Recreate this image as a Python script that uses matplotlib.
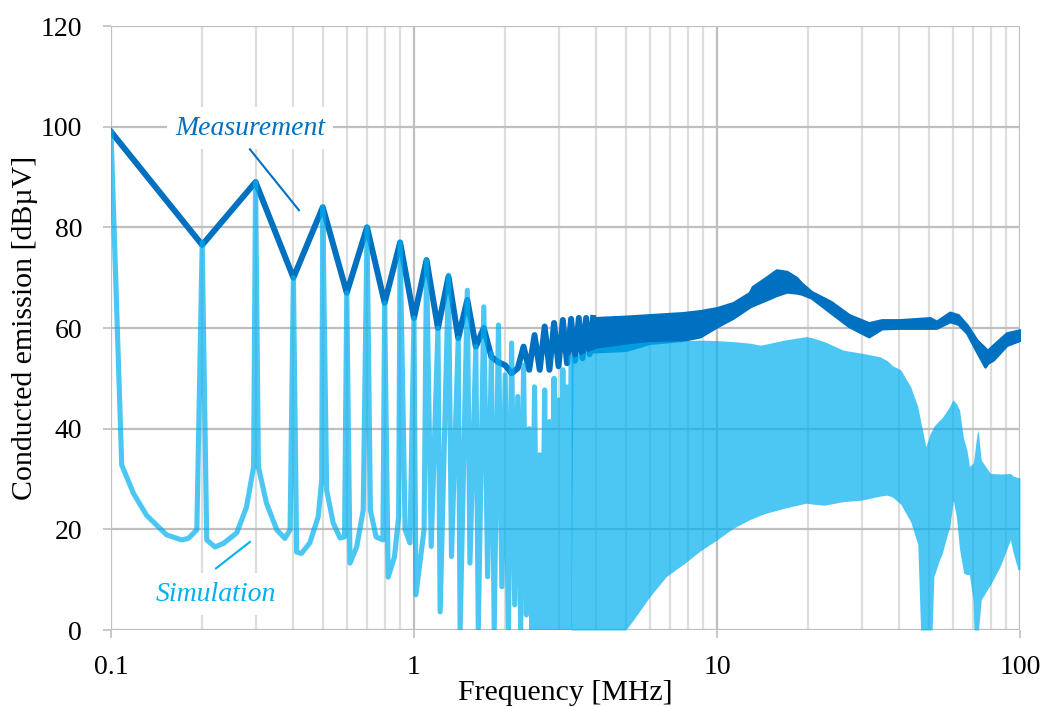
import numpy as np
import matplotlib
matplotlib.use('Agg')
import matplotlib.pyplot as plt
from matplotlib.ticker import LogLocator, FixedLocator, FixedFormatter, NullFormatter

meas_f = [0.1, 0.2, 0.3, 0.4, 0.5, 0.6, 0.7, 0.8, 0.9, 1.0,
          1.1, 1.2, 1.3, 1.4, 1.5, 1.6, 1.7, 1.8, 1.9, 2.0,
          2.1, 2.2, 2.3, 2.4, 2.5, 2.6, 2.7, 2.8, 2.9, 3.0,
          3.1, 3.2, 3.3, 3.4, 3.5, 3.6, 3.7, 3.8, 3.9]
meas_db = [99, 76.5, 89, 70, 84, 67, 80, 65, 77, 62,
           73.5, 60, 70.2, 58, 65.6, 56.3, 60, 54.3, 53.2, 52.6,
           51, 52, 56.3, 51.7, 58.6, 51.7, 60.3, 51.7, 61, 52.4,
           61.6, 53, 61.8, 53.5, 62, 54, 62, 54.8, 62]

# measurement above ~4 MHz: envelope of the dense band
meas_band_f = [3.9, 5.0, 6.0, 7.7, 8.8, 10, 11.3, 12.8, 13.1, 14.5, 15.7, 17, 18.3,
               19, 20.5, 23.8, 27.3, 31.7, 35, 40, 50.5, 53, 58.7, 62.5, 66.8,
               72, 76.7, 78, 81.6, 90.4, 100]
meas_band_hi = [62.0, 62.3, 62.6, 63.0, 63.4, 64.0, 65.0, 67.0, 68.2, 70.0, 71.5, 71.2, 70.0,
                68.9, 67.2, 65.2, 62.6, 61.0, 61.6, 61.6, 62.0, 61.3, 63.1, 62.6, 60.6,
                57.6, 56.0, 55.5, 56.6, 59.0, 59.6]
meas_band_lo = [55.3, 55.6, 57.0, 57.6, 58.3, 60.3, 62.0, 64.2, 64.5, 65.6, 66.5, 67.2, 67.0,
                66.8, 66.0, 63.0, 60.3, 58.3, 59.9, 60.0, 60.0, 60.0, 61.3, 60.8, 59.0,
                55.3, 52.3, 53.0, 53.7, 56.6, 57.6]

# ---- simulation: traced points up to 3.3 MHz ----
sim_f = [0.1, 0.1085, 0.1185, 0.131, 0.1526, 0.171, 0.18, 0.192,
         0.2, 0.207, 0.2205, 0.235, 0.26, 0.28, 0.2956,
         0.3, 0.3066, 0.326, 0.3526, 0.375, 0.39,
         0.4, 0.41, 0.425, 0.453, 0.483, 0.496,
         0.5, 0.515, 0.541, 0.57, 0.59,
         0.6, 0.615, 0.647, 0.68,
         0.7, 0.718, 0.75, 0.79,
         0.8, 0.822, 0.862, 0.89,
         0.9, 0.935, 0.97,
         1.0, 1.015, 1.08, 1.1, 1.14, 1.2, 1.22, 1.3, 1.33,
         1.4, 1.42, 1.5, 1.53, 1.6, 1.63, 1.7, 1.75, 1.8, 1.84,
         1.9, 1.95, 2.0, 2.05, 2.1, 2.15, 2.2, 2.25, 2.3, 2.35,
         2.4, 2.45, 2.5, 2.55, 2.6, 2.65, 2.7, 2.75, 2.8, 2.85,
         2.9, 2.95, 3.0, 3.05, 3.1, 3.15, 3.2, 3.25, 3.3]
sim_db = [99, 32.8, 27.2, 22.8, 18.9, 17.9, 18.2, 19.9,
          77, 17.9, 16.5, 17.2, 19.3, 24.4, 32.4,
          89, 32.4, 25.2, 19.9, 18.2, 19.9,
          70, 15.5, 15.2, 17.3, 22.5, 29.8,
          84, 27.8, 21.3, 18.3, 18.5,
          67, 13.3, 16.5, 23.8,
          80, 23.8, 18.5, 17.9,
          65, 10.5, 14.5, 22.5,
          77, 19.9, 17.3,
          62, 7, 20, 73.5, 16.6, 60, 3.6, 70.5, 14.6,
          58, 0, 67.5, 13.3, 56.3, 0, 64.2, 10.6, 55, 0,
          60.6, 8.6, 50.7, 0, 57, 5, 46.4, 0, 52.6, 3,
          40, 0, 48.3, 0, 34.8, 0, 47.7, 0, 41.4, 0,
          50, 0, 45.7, 0, 51.7, 0, 48.3, 0, 54]

# simulation above 3.3 MHz: envelope of the dense band
sim_band_f = [3.3, 4.0, 5.0, 5.3, 6.0, 6.8, 7.8, 8.8, 10, 11.3, 12.8, 13.9, 14.5,
              16.7, 19.7, 20.8, 22.6, 26.1, 30, 34.5, 36.5, 38, 40.4, 43.6, 46,
              47.0, 47.7, 48.9, 50.6, 51.3, 52, 54.3, 55.4, 57.6, 58.7, 60, 60.2,
              61.7, 63.2, 64.4, 65.2, 66.8, 68.1, 70, 70.5, 71.5, 72.5, 73, 74.5,
              78, 80, 86, 93, 95, 98.5, 100]
sim_band_hi = [54, 56, 56.8, 57, 57.3, 57.4, 57.5, 57.6, 57.5, 57.3, 57.0, 56.6, 56.8,
               57.6, 58.3, 58.0, 57.3, 55.6, 55.0, 54.3, 53.5, 52.5, 51.7, 48.3, 44.4,
               41.5, 39.7, 36.4, 39.1, 39.7, 40.5, 41.7, 42.2, 43.7, 44.5, 45.7, 45.7,
               45.0, 43.7, 40.0, 38.0, 35.8, 32.5, 33.1, 34.0, 37.1, 39.7, 39.0, 33.8,
               32.0, 31.1, 31.0, 31.1, 30.6, 30.3, 30.2]
sim_band_lo = [0, 0, 0, 2, 6.6, 10.6, 13.2, 15.7, 17.9, 20.2, 21.9, 22.8, 23.2,
               24.2, 25.2, 25.0, 24.8, 25.5, 25.8, 26.6, 26.8, 26.4, 25.0, 21.5, 17.0,
               0, 0, 0, 0, 0, 10.6, 14.0, 15.2, 19.0, 20.5, 25.0, 25.8,
               22.5, 16.0, 13.2, 11.3, 11.0, 11.0, 6.0, 0, 0, 0, 0, 6.0,
               8.0, 9.0, 12.6, 17.9, 15.3, 12.0, 12.0]

xticks = [0.1, 1, 10, 100]
xticklabels = ['0.1', '1', '10', '100']
yticks = [0, 20, 40, 60, 80, 100, 120]

# ---- style ----
plt.rcParams['font.family'] = ['Liberation Serif', 'DejaVu Serif']
meas_col = '#0070C0'
sim_col = '#00B0F0'
fs = 20
fs_lab = 21.5

fig = plt.figure(figsize=(10.46, 7.07), dpi=100)
ax = fig.add_axes([0.1061, 0.1089, 0.869, 0.8543])

ax.set_xscale('log')
ax.set_xlim(0.1, 100)
ax.set_ylim(0, 120)

# grid
ax.xaxis.set_major_locator(FixedLocator(xticks))
ax.xaxis.set_major_formatter(FixedFormatter(xticklabels))
ax.xaxis.set_minor_locator(LogLocator(base=10, subs=np.arange(2, 10)))
ax.xaxis.set_minor_formatter(NullFormatter())
ax.set_yticks(yticks)
ax.grid(True, which='major', color='#BFBFBF', linewidth=1.6, zorder=0)
ax.grid(True, which='minor', axis='x', color='#DDDDDD', linewidth=1.6, zorder=0)
ax.set_axisbelow(True)
for s in ax.spines.values():
    s.set_visible(False)
ax.tick_params(which='major', length=5.8, width=1.2, color='#BFBFBF',
               labelsize=fs, pad=12)
ax.tick_params(axis='y', pad=15)
ax.tick_params(which='minor', length=0)

# measurement
ax.plot(meas_f, meas_db, color=meas_col, lw=4.3, solid_joinstyle='round', zorder=2)
ax.fill_between(meas_band_f, meas_band_lo, meas_band_hi, color=meas_col,
                lw=2.0, edgecolor=meas_col, zorder=2)

# simulation (semi-transparent, on top)
ax.plot(sim_f, sim_db, color=sim_col, alpha=0.7, lw=3.7, solid_joinstyle='round', zorder=3)
ax.fill_between(sim_band_f, sim_band_lo, sim_band_hi, color=sim_col, alpha=0.7,
                lw=0, zorder=3)

# labels
ax.set_xlabel('Frequency [MHz]', fontsize=fs_lab, labelpad=0)
ax.set_ylabel('Conducted emission [dBµV]', fontsize=fs_lab, labelpad=2)

ax.text(0.2875, 99.7, 'Measurement', style='italic', color=meas_col, fontsize=fs,
        ha='center', va='center', zorder=5,
        bbox=dict(facecolor='white', edgecolor='none', pad=6))
ax.plot([0.2875, 0.4173], [95.5, 83.4], color=meas_col, lw=1.5, zorder=5)

ax.text(0.2221, 7.15, 'Simulation', style='italic', color=sim_col, fontsize=fs,
        ha='center', va='center', zorder=5,
        bbox=dict(facecolor='white', edgecolor='none', pad=6))
ax.plot([0.2221, 0.2875], [12.25, 17.5], color=sim_col, lw=1.5, zorder=5)

fig.savefig('out.png', dpi=100)
